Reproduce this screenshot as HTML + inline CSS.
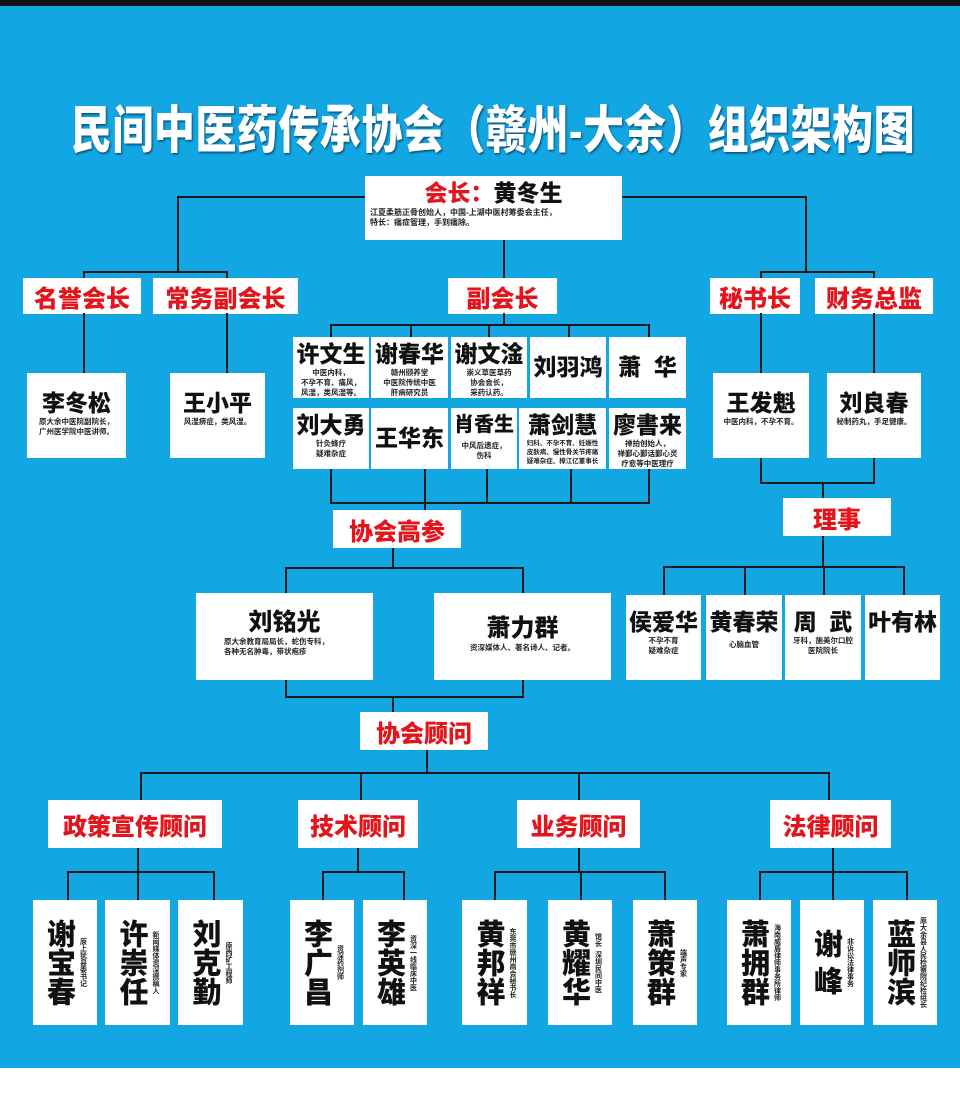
<!DOCTYPE html>
<html><head><meta charset="utf-8"><style>
*{margin:0;padding:0;box-sizing:border-box}
body{width:960px;height:1100px;position:relative;background:#fff;overflow:hidden;font-family:"Liberation Sans","Noto Sans CJK SC",sans-serif}
#bg{position:absolute;left:0;top:6px;width:960px;height:1062px;background:#12a7e3}
#top{position:absolute;left:0;top:0;width:960px;height:6px;background:#111}
.b{position:absolute;background:#fff;text-align:center;color:#111;font-weight:900}
.c{color:#e3141c;font-size:24px;display:flex;align-items:center;justify-content:center}
.h{position:absolute;background:#1a1a1a;height:2px}
.v{position:absolute;background:#1a1a1a;width:2px}
.n{font-size:23px;line-height:28px;padding-top:3px;white-space:nowrap}
.s{font-size:7.5px;line-height:10px;font-weight:700;color:#222}
.vt{display:flex;justify-content:center;align-items:center;gap:4px}
.vn{writing-mode:vertical-rl;font-size:29px;font-weight:900;line-height:32px}
.vs{writing-mode:vertical-rl;font-size:7px;font-weight:700;line-height:9px;color:#222}
</style></head><body>
<div id="top"></div><div id="bg"></div>
<div style="position:absolute;left:58px;top:88px;width:870px;text-align:center;color:#fff;font-size:41px;font-weight:900;transform:scaleY(1.25);transform-origin:top;text-shadow:1px 1px 2px #0a4a70;white-space:nowrap;letter-spacing:0.5px">民间中医药传承协会（赣州-大余）组织架构图</div>

<div class="h" style="left:177px;top:196px;width:190px"></div>
<div class="v" style="left:177px;top:196px;height:77px"></div>
<div class="h" style="left:83px;top:271px;width:145px"></div>
<div class="v" style="left:83px;top:271px;height:8px"></div>
<div class="v" style="left:226px;top:271px;height:8px"></div>
<div class="h" style="left:620px;top:196px;width:187px"></div>
<div class="v" style="left:805px;top:196px;height:77px"></div>
<div class="h" style="left:760px;top:271px;width:115px"></div>
<div class="v" style="left:760px;top:271px;height:8px"></div>
<div class="v" style="left:873px;top:271px;height:8px"></div>
<div class="v" style="left:503px;top:240px;height:40px"></div>

<div class="b" style="left:365px;top:176px;width:257px;height:64px">
<div style="font-size:23px;line-height:30px;padding-top:2px"><span style="color:#e3141c">会长：</span>黄冬生</div>
<div class="s" style="text-align:left;padding-left:5px;font-size:8px">江夏柔筋正骨创始人，中国-上湖中医村筹委会主任，<br>特长：痛症管理，手到痛除。</div></div>

<div class="b c" style="left:23px;top:278px;width:118px;height:36px">名誉会长</div>
<div class="b c" style="left:153px;top:278px;width:145px;height:36px">常务副会长</div>
<div class="b c" style="left:448px;top:278px;width:109px;height:36px">副会长</div>
<div class="b c" style="left:710px;top:278px;width:90px;height:36px">秘书长</div>
<div class="b c" style="left:815px;top:278px;width:118px;height:36px">财务总监</div>

<div class="v" style="left:83px;top:313px;height:62px"></div>
<div class="v" style="left:226px;top:313px;height:62px"></div>
<div class="v" style="left:760px;top:313px;height:62px"></div>
<div class="v" style="left:873px;top:313px;height:62px"></div>
<div class="v" style="left:503px;top:313px;height:12px"></div>
<div class="h" style="left:330px;top:324px;width:320px"></div>
<div class="v" style="left:330px;top:324px;height:14px"></div>
<div class="v" style="left:410px;top:324px;height:14px"></div>
<div class="v" style="left:488px;top:324px;height:14px"></div>
<div class="v" style="left:568px;top:324px;height:14px"></div>
<div class="v" style="left:648px;top:324px;height:14px"></div>

<div class="b" style="left:27px;top:373px;width:99px;height:85px"><div class="n" style="padding-top:16px">李冬松</div><div class="s">原大余中医院副院长，<br>广州医学院中医讲师。</div></div>
<div class="b" style="left:170px;top:373px;width:95px;height:85px"><div class="n" style="padding-top:16px">王小平</div><div class="s">风湿痹症，类风湿。</div></div>
<div class="b" style="left:713px;top:373px;width:96px;height:85px"><div class="n" style="padding-top:16px">王发魁</div><div class="s">中医内科，不孕不育。</div></div>
<div class="b" style="left:827px;top:373px;width:94px;height:85px"><div class="n" style="padding-top:16px">刘良春</div><div class="s">秘制药丸，手足健康。</div></div>

<div class="b" style="left:293px;top:337px;width:76px;height:61px"><div class="n">许文生</div><div class="s">中医内科，<br>不孕不育、痛风，<br>风湿，类风湿等。</div></div>
<div class="b" style="left:371px;top:337px;width:77px;height:61px"><div class="n">谢春华</div><div class="s">赣州颐养堂<br>中医院传统中医<br>肝病研究员</div></div>
<div class="b" style="left:451px;top:337px;width:76px;height:61px"><div class="n">谢文淦</div><div class="s">崇义草医草药<br>协会会长，<br>采药认药。</div></div>
<div class="b" style="left:530px;top:337px;width:76px;height:61px"><div class="n" style="padding-top:16px">刘羽鸿</div></div>
<div class="b" style="left:609px;top:337px;width:77px;height:61px"><div class="n" style="padding-top:16px">萧&nbsp;&nbsp;华</div></div>
<div class="b" style="left:293px;top:408px;width:76px;height:61px"><div class="n">刘大勇</div><div class="s">针灸蜂疗<br>疑难杂症</div></div>
<div class="b" style="left:371px;top:408px;width:77px;height:61px"><div class="n" style="padding-top:16px">王华东</div></div>
<div class="b" style="left:451px;top:408px;width:66px;height:61px"><div class="n" style="font-size:20px">肖香生</div><div class="s" style="padding-top:2px">中风后遗症，<br>伤科</div></div>
<div class="b" style="left:519px;top:408px;width:87px;height:61px"><div class="n">萧剑慧</div><div class="s" style="font-size:6.5px;line-height:9px">妇科、不孕不育、妊娠性<br>皮肤病、慢性骨关节疼痛<br>疑难杂症、樟江亿董事长</div></div>
<div class="b" style="left:609px;top:408px;width:77px;height:61px"><div class="n">廖書来</div><div class="s">禅拍创始人，<br>禅鄞心鄞话鄞心灵<br>疗愈等中医理疗</div></div>

<div class="v" style="left:330px;top:469px;height:35px"></div>
<div class="v" style="left:424px;top:469px;height:42px"></div>
<div class="v" style="left:486px;top:469px;height:35px"></div>
<div class="v" style="left:570px;top:469px;height:35px"></div>
<div class="v" style="left:648px;top:469px;height:35px"></div>
<div class="h" style="left:330px;top:502px;width:320px"></div>

<div class="b c" style="left:333px;top:510px;width:128px;height:38px">协会高参</div>
<div class="v" style="left:392px;top:548px;height:21px"></div>
<div class="h" style="left:285px;top:567px;width:239px"></div>
<div class="v" style="left:285px;top:567px;height:27px"></div>
<div class="v" style="left:522px;top:567px;height:27px"></div>
<div class="b" style="left:196px;top:593px;width:177px;height:87px"><div class="n" style="padding-top:16px;font-size:24px">刘铭光</div><div class="s" style="text-align:left;padding-left:28px">原大余教育局局长，蛇伤专科，<br>各种无名肿毒，带状疱疹</div></div>
<div class="b" style="left:434px;top:593px;width:177px;height:87px"><div class="n" style="padding-top:22px;font-size:24px">萧力群</div><div class="s">资深媒体人、著名诗人、记者。</div></div>
<div class="v" style="left:285px;top:680px;height:18px"></div>
<div class="v" style="left:522px;top:680px;height:18px"></div>
<div class="h" style="left:285px;top:696px;width:239px"></div>
<div class="v" style="left:392px;top:696px;height:17px"></div>

<div class="v" style="left:760px;top:458px;height:26px"></div>
<div class="v" style="left:873px;top:458px;height:26px"></div>
<div class="h" style="left:760px;top:482px;width:115px"></div>
<div class="v" style="left:822px;top:482px;height:17px"></div>
<div class="b c" style="left:783px;top:498px;width:108px;height:38px">理事</div>
<div class="v" style="left:822px;top:536px;height:32px"></div>
<div class="h" style="left:663px;top:566px;width:242px"></div>
<div class="v" style="left:663px;top:566px;height:30px"></div>
<div class="v" style="left:744px;top:566px;height:30px"></div>
<div class="v" style="left:823px;top:566px;height:30px"></div>
<div class="v" style="left:903px;top:566px;height:30px"></div>
<div class="b" style="left:626px;top:595px;width:75px;height:85px"><div class="n" style="padding-top:13px">侯爱华</div><div class="s">不孕不育<br>疑难杂症</div></div>
<div class="b" style="left:706px;top:595px;width:76px;height:85px"><div class="n" style="padding-top:13px">黄春荣</div><div class="s" style="padding-top:4px">心脑血管</div></div>
<div class="b" style="left:785px;top:595px;width:76px;height:85px"><div class="n" style="padding-top:13px">周&nbsp;&nbsp;武</div><div class="s">牙科，施美尔口腔<br>医院院长</div></div>
<div class="b" style="left:865px;top:595px;width:75px;height:85px"><div class="n" style="padding-top:13px">叶有林</div></div>

<div class="b c" style="left:360px;top:712px;width:128px;height:38px">协会顾问</div>
<div class="v" style="left:426px;top:750px;height:24px"></div>
<div class="h" style="left:140px;top:772px;width:690px"></div>
<div class="v" style="left:140px;top:772px;height:29px"></div>
<div class="v" style="left:360px;top:772px;height:29px"></div>
<div class="v" style="left:578px;top:772px;height:29px"></div>
<div class="v" style="left:828px;top:772px;height:29px"></div>
<div class="b c" style="left:48px;top:800px;width:174px;height:48px">政策宣传顾问</div>
<div class="b c" style="left:298px;top:800px;width:120px;height:48px">技术顾问</div>
<div class="b c" style="left:517px;top:800px;width:123px;height:48px">业务顾问</div>
<div class="b c" style="left:770px;top:800px;width:121px;height:48px">法律顾问</div>

<div class="v" style="left:137px;top:848px;height:24px"></div>
<div class="h" style="left:67px;top:871px;width:148px"></div>
<div class="v" style="left:67px;top:871px;height:30px"></div>
<div class="v" style="left:137px;top:871px;height:30px"></div>
<div class="v" style="left:213px;top:871px;height:30px"></div>
<div class="v" style="left:357px;top:848px;height:24px"></div>
<div class="h" style="left:322px;top:871px;width:83px"></div>
<div class="v" style="left:322px;top:871px;height:30px"></div>
<div class="v" style="left:403px;top:871px;height:30px"></div>
<div class="v" style="left:578px;top:848px;height:24px"></div>
<div class="h" style="left:494px;top:871px;width:172px"></div>
<div class="v" style="left:494px;top:871px;height:30px"></div>
<div class="v" style="left:580px;top:871px;height:30px"></div>
<div class="v" style="left:664px;top:871px;height:30px"></div>
<div class="v" style="left:832px;top:848px;height:24px"></div>
<div class="h" style="left:759px;top:871px;width:149px"></div>
<div class="v" style="left:759px;top:871px;height:30px"></div>
<div class="v" style="left:832px;top:871px;height:30px"></div>
<div class="v" style="left:906px;top:871px;height:30px"></div>

<div class="b vt" style="left:33px;top:900px;width:64px;height:125px"><div class="vn">谢宝春</div><div class="vs">原上犹县委书记</div></div>
<div class="b vt" style="left:105px;top:900px;width:65px;height:125px"><div class="vn">许崇任</div><div class="vs">新闻媒体资深撰稿人</div></div>
<div class="b vt" style="left:178px;top:900px;width:65px;height:125px"><div class="vn">刘克勤</div><div class="vs">原西矿工程师</div></div>
<div class="b vt" style="left:290px;top:900px;width:64px;height:125px"><div class="vn">李广昌</div><div class="vs">资深药剂师</div></div>
<div class="b vt" style="left:363px;top:900px;width:64px;height:125px"><div class="vn">李英雄</div><div class="vs">资深一线临床中医</div></div>
<div class="b vt" style="left:462px;top:900px;width:65px;height:125px"><div class="vn">黄邦祥</div><div class="vs">东莞市赣州商会秘书长</div></div>
<div class="b vt" style="left:548px;top:900px;width:64px;height:125px"><div class="vn">黄耀华</div><div class="vs">馆长&nbsp;&nbsp;深圳民间中医</div></div>
<div class="b vt" style="left:633px;top:900px;width:64px;height:125px"><div class="vn">萧策群</div><div class="vs">端声专家</div></div>
<div class="b vt" style="left:727px;top:900px;width:64px;height:125px"><div class="vn">萧拥群</div><div class="vs">海南威盾律师事务所律师</div></div>
<div class="b vt" style="left:800px;top:900px;width:64px;height:125px"><div class="vn">谢&nbsp;峰</div><div class="vs">非诉讼法律事务</div></div>
<div class="b vt" style="left:873px;top:900px;width:64px;height:125px"><div class="vn">蓝师滨</div><div class="vs">原大余县人民检察院纪检组长</div></div>
</body></html>
